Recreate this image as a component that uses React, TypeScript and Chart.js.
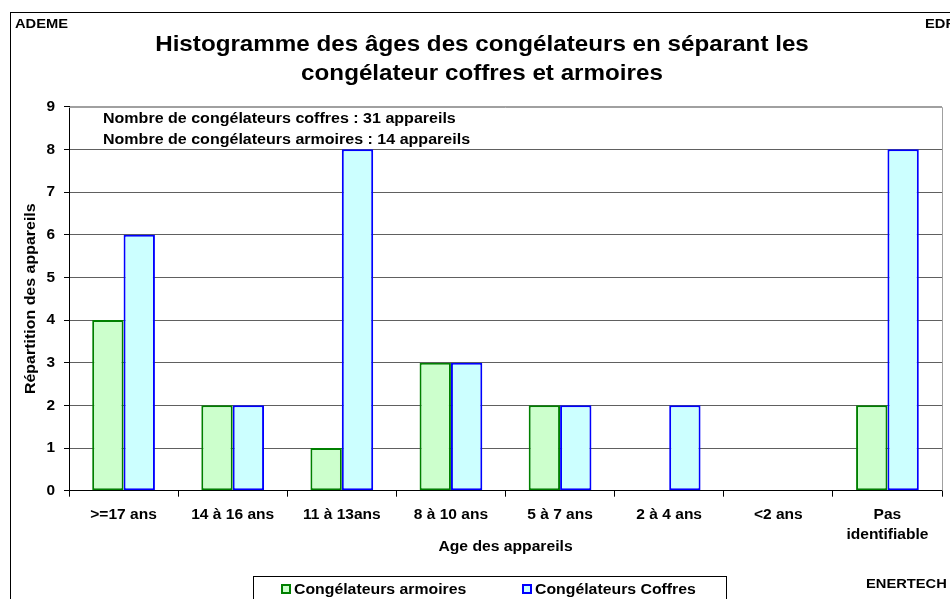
import React, { useEffect, useRef } from "react";
import { Chart, registerables } from "chart.js";

Chart.register(...registerables);

const categories: string[][] = [
  [">=17 ans"],
  ["14 à 16 ans"],
  ["11 à 13ans"],
  ["8 à 10 ans"],
  ["5 à 7 ans"],
  ["2 à 4 ans"],
  ["<2 ans"],
  ["Pas", "identifiable"],
];
const armoires = [4, 2, 1, 3, 2, 0, 0, 2];
const coffres = [6, 2, 8, 3, 2, 2, 0, 8];
const yTicks = [0, 1, 2, 3, 4, 5, 6, 7, 8, 9];

const titleLines = [
  "Histogramme des âges des congélateurs en séparant les",
  "congélateur coffres et armoires",
];
const noteLines = [
  "Nombre de congélateurs coffres : 31 appareils",
  "Nombre de congélateurs armoires : 14 appareils",
];
const yTitle = "Répartition des appareils";
const xTitle = "Age des appareils";
const seriesNames = ["Congélateurs armoires", "Congélateurs Coffres"];

const FONT = "'Liberation Sans', Arial, sans-serif";

function txt(
  ctx: CanvasRenderingContext2D,
  s: string,
  x: number,
  y: number,
  size: number,
  align: CanvasTextAlign,
  sx = 1.12,
  baseline: CanvasTextBaseline = "alphabetic"
) {
  ctx.save();
  ctx.font = `bold ${size}px ${FONT}`;
  ctx.textAlign = align;
  ctx.textBaseline = baseline;
  ctx.fillStyle = "#000";
  ctx.translate(x, y);
  ctx.scale(sx, 1);
  ctx.fillText(s, 0, 0);
  ctx.restore();
}

const decorPlugin = {
  id: "decor",
  afterDraw(chart: any) {
    const ctx = chart.ctx as CanvasRenderingContext2D;
    const ca = chart.chartArea;
    const xs = chart.scales.x;
    const ys = chart.scales.y;
    ctx.save();
    // outer frame
    ctx.strokeStyle = "#000";
    ctx.lineWidth = 1;
    ctx.strokeRect(10.5, 12.5, 1000, 700);
    // plot top/right border
    ctx.strokeStyle = "#a0a0a0";
    ctx.beginPath();
    ctx.moveTo(ca.left, Math.round(ca.top) + 0.5);
    ctx.lineTo(Math.round(ca.right) + 0.5, Math.round(ca.top) + 0.5);
    ctx.lineTo(Math.round(ca.right) + 0.5, ca.bottom);
    ctx.stroke();
    ctx.restore();

    // corner labels
    txt(ctx, "ADEME", 15, 28, 13, "left", 1.13);
    txt(ctx, "EDF", 925, 28, 13, "left", 1.13);
    txt(ctx, "ENERTECH", 866, 588, 13, "left", 1.13);
    // title
    txt(ctx, titleLines[0], 482, 51, 22, "center", 1.1);
    txt(ctx, titleLines[1], 482, 80, 22, "center", 1.1);
    // notes
    txt(ctx, noteLines[0], 103, 123, 14, "left", 1.145);
    txt(ctx, noteLines[1], 103, 144, 14, "left", 1.145);
    // x tick labels
    categories.forEach((lines, i) => {
      const x = xs.getPixelForTick(i);
      lines.forEach((ln, j) => {
        txt(ctx, ln, x, 515 + j * 20, 14, "center", 1.11, "middle");
      });
    });
    // y tick labels
    yTicks.forEach((v) => {
      txt(ctx, String(v), 55, ys.getPixelForValue(v) + 0.5, 14, "right", 1.1, "middle");
    });
    // axis titles
    txt(ctx, xTitle, (ca.left + ca.right) / 2, 551, 14, "center", 1.12);
    ctx.save();
    ctx.translate(35, (ca.top + ca.bottom) / 2);
    ctx.rotate(-Math.PI / 2);
    txt(ctx, yTitle, 0, 0, 14, "center", 1.14);
    ctx.restore();
    // legend
    ctx.save();
    ctx.strokeStyle = "#000";
    ctx.lineWidth = 1;
    ctx.strokeRect(253.5, 576.5, 473, 40);
    const items = [
      { x: 281, tx: 294, fill: "#CCFFCC", stroke: "#008000", text: seriesNames[0] },
      { x: 522, tx: 535, fill: "#CCFFFF", stroke: "#0000FF", text: seriesNames[1] },
    ];
    for (const it of items) {
      ctx.fillStyle = it.fill;
      ctx.fillRect(it.x, 584, 10, 10);
      ctx.strokeStyle = it.stroke;
      ctx.lineWidth = 2;
      ctx.strokeRect(it.x + 1, 585, 8, 8);
      txt(ctx, it.text, it.tx, 594, 14, "left", 1.13);
    }
    ctx.restore();
  },
};

export default function App() {
  const ref = useRef<HTMLCanvasElement>(null);
  useEffect(() => {
    if (!ref.current) return;
    const chart = new Chart(ref.current, {
      type: "bar",
      data: {
        labels: categories.map((c) => c.join(" ")),
        datasets: [
          {
            label: seriesNames[0],
            data: armoires,
            backgroundColor: "#CCFFCC",
            borderColor: "#008000",
            borderWidth: 2,
            borderSkipped: false,
            barPercentage: 1,
            categoryPercentage: 0.575,
          },
          {
            label: seriesNames[1],
            data: coffres,
            backgroundColor: "#CCFFFF",
            borderColor: "#0000FF",
            borderWidth: 2,
            borderSkipped: false,
            barPercentage: 1,
            categoryPercentage: 0.575,
          },
        ],
      },
      options: {
        responsive: false,
        animation: false,
        layout: { padding: { left: 0, top: 106.7, right: 8, bottom: 0 } },
        plugins: {
          legend: { display: false },
          tooltip: { enabled: false },
          title: { display: false },
        },
        scales: {
          x: {
            offset: true,
            grid: {
              offset: true,
              drawOnChartArea: false,
              drawTicks: true,
              tickLength: 6,
              tickColor: "#000",
            },
            border: { color: "#000", width: 1 },
            ticks: { display: false, autoSkip: false, maxRotation: 0 },
            afterFit: (s: any) => {
              s.height = 108.3;
            },
          },
          y: {
            min: 0,
            max: 9,
            afterBuildTicks: (s: any) => {
              s.ticks = yTicks.map((v) => ({ value: v }));
            },
            grid: {
              color: (c: any) => (c.tick && c.tick.value === 9 ? "#a0a0a0" : "#606060"),
              tickColor: "#000",
              tickLength: 5,
            },
            border: { color: "#000", width: 1 },
            ticks: { display: false },
            afterFit: (s: any) => {
              s.width = 69;
            },
          },
        },
      },
      plugins: [decorPlugin],
    });
    return () => chart.destroy();
  }, []);
  return (
    <div style={{ position: "absolute", left: 0, top: 0, width: 950, height: 599 }}>
      <canvas ref={ref} width={950} height={599} />
    </div>
  );
}
